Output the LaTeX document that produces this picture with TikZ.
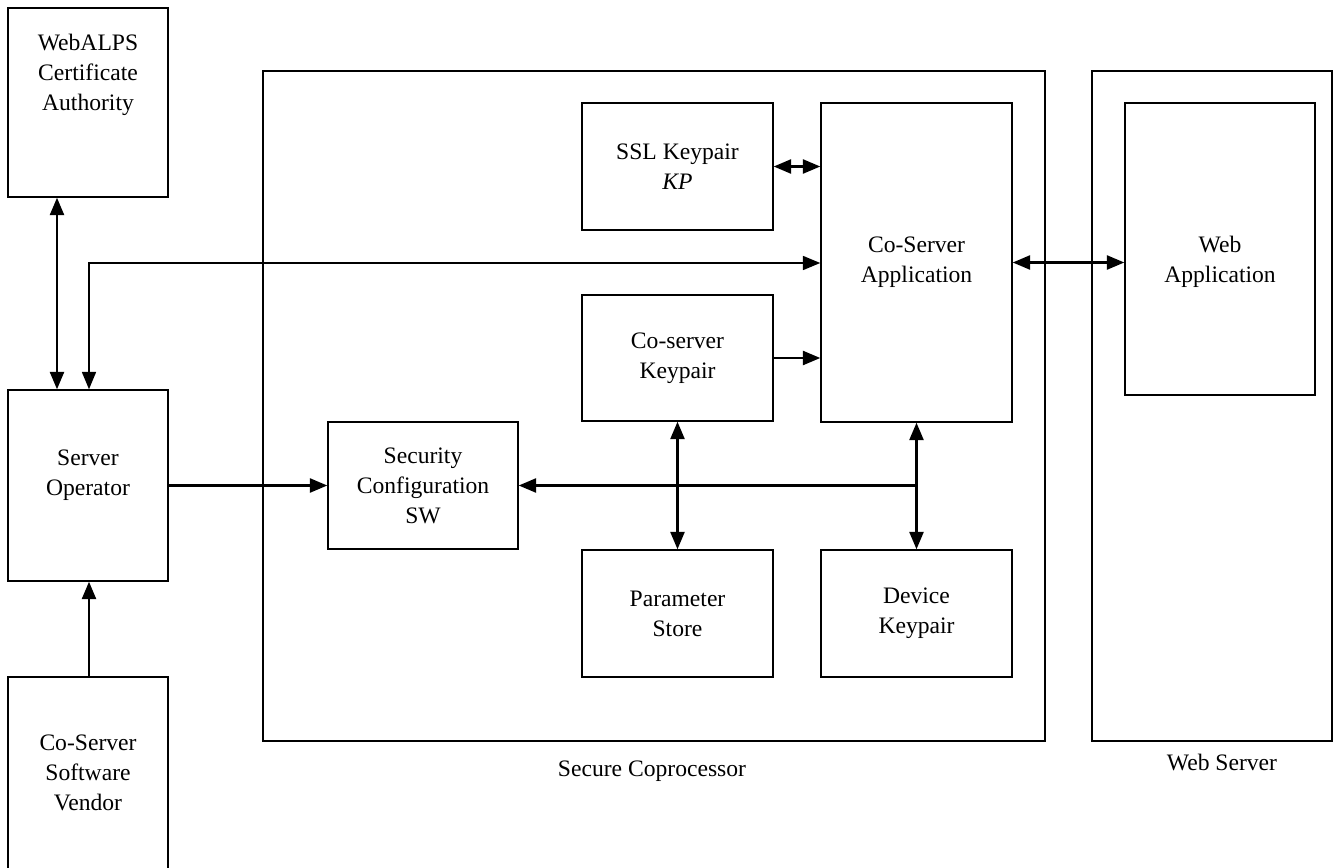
\documentclass[tikz,border=0pt]{standalone}
\usepackage{fontspec}
\setmainfont{Liberation Serif}
\usepackage{tikz}
\usetikzlibrary{arrows.meta}

\tikzset{
	box/.style={draw, line width=1.1pt, inner sep=0pt, align=center},
	wide/.style={minimum width=143.25pt, minimum height=95.25pt},
	conn/.style={line width=1.7pt},
	every label/.style={align=center},
}

\begin{document}
\begin{tikzpicture}[x=0.75pt, y=-0.75pt, font=\fontsize{17.7}{22.5}\selectfont, >={Triangle[length=13pt,width=10.5pt]}]
		\clip (0,0) rectangle (1334,867);
		\useasboundingbox (0,0) rectangle (1334,867);

		% outer containers
		\node[box, minimum width=586.5pt, minimum height=502.5pt] (cop) at (654,406) {};
		\node[box, minimum width=180pt, minimum height=502.5pt] (ws) at (1212,406) {};
		\node (coplbl) at (652,771) {Secure Coprocessor};
		\node (wslbl) at (1222,762) {Web Server};

		% left column
		\node[box, minimum width=120pt, minimum height=141.75pt, label={[yshift=21pt]center:{WebALPS\\Certificate\\Authority}}] (ca) at (88,102.5) {};
		\node[box, minimum width=120pt, minimum height=143.25pt, label={[yshift=7.5pt]center:{Server\\Operator}}] (op) at (88,485.5) {};
		\node[box, minimum width=120pt, minimum height=167.25pt, label={[yshift=11.5pt]center:{Co-Server\\Software\\Vendor}}] (vend) at (88,788.5) {};

		% inside the coprocessor
		\node[box, wide] (ssl) at (677.5,166.5) {SSL Keypair\\\textit{KP}};
		\node[box, minimum width=143.25pt, minimum height=239.25pt] (app) at (916.5,262.5) {Co-Server\\Application};
		\node[box, wide, minimum height=94.5pt] (ckp) at (677.5,358) {Co-server\\Keypair};
		\node[box, wide, minimum width=142.5pt] (sec) at (423,485.5) {Security\\Configuration\\SW};
		\node[box, wide] (ps) at (677.5,613.5) {Parameter\\Store};
		\node[box, wide] (dev) at (916.5,613.5) {Device\\Keypair};

		% inside the web server
		\node[box, minimum width=142.5pt, minimum height=219pt, label={[yshift=-9.5pt]center:{Web\\Application}}] (wapp) at (1220,249) {};

		% connectors
		\coordinate (bend) at (89,263);
		\coordinate (caop) at (57,0);
		\draw[conn, <->] (ca.south -| caop) -- (op.north -| caop);
		\draw[line width=1.2pt, <->] (op.north -| bend) -- (bend) -- (bend -| app.west);
		\draw[conn, ->] (vend.north -| bend) -- (op.south -| bend);
		\draw[conn, ->] (op.east) -- (sec.west);
		\draw[conn, <->] (ssl.east) -- (ssl.east -| app.west);
		\draw[conn, ->] (ckp.east) -- (ckp.east -| app.west);
		\draw[conn, <->] (app.east) -- (app.east -| wapp.west);
		\draw[conn, <->] (ckp.south) -- (ps.north);
		\draw[conn, <->] (app.south) -- (dev.north);
		\draw[conn, ->] (app.south |- sec.east) -- (sec.east);
\end{tikzpicture}
\end{document}
